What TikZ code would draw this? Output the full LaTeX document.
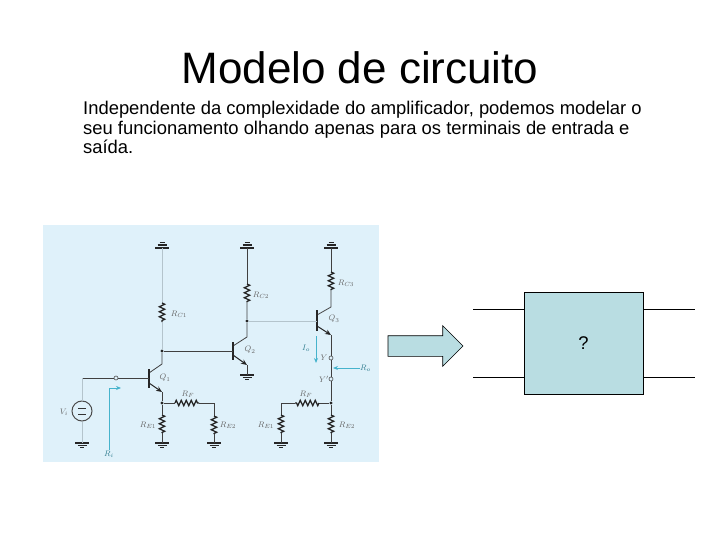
\documentclass[tikz,border=0pt]{standalone}
\usepackage{fontspec}
\setmainfont{Liberation Sans}
\usepackage{amsmath}
\usetikzlibrary{positioning}
\usetikzlibrary{arrows.meta,shapes.arrows,decorations.pathmorphing,calc}
\definecolor{panelblue}{HTML}{DFF1FA}
\definecolor{boxblue}{HTML}{B9DDE2}
\definecolor{probecyan}{HTML}{45B3CC}
\definecolor{palewire}{HTML}{B4C4CC}
\tikzstyle{title} = [font=\fontsize{44}{50}\selectfont, inner sep=0pt]
\tikzstyle{body} = [font=\fontsize{18.4}{19.6}\selectfont, align=left, anchor=north west, inner sep=0pt]
\tikzstyle{wire} = [line width=0.8pt, color=black!75]
\tikzstyle{palewirestyle} = [line width=0.8pt, color=palewire]
\tikzstyle{res} = [line width=1.3pt, black!85, decorate, decoration={zigzag, segment length=5pt, amplitude=2.6pt, pre length=0pt, post length=0pt}]
\tikzstyle{dot} = [circle, fill=black!85, inner sep=0pt, minimum size=3.4pt]
\tikzstyle{port} = [circle, draw=black!70, fill=panelblue, inner sep=0pt, minimum size=4pt, line width=0.6pt]
\tikzstyle{lab} = [font=\fontsize{8}{9}\selectfont, text=black!60, inner sep=0pt]
\tikzstyle{probelab} = [font=\fontsize{8}{9}\selectfont, text=probecyan!70!black, inner sep=0pt]
\tikzstyle{probe} = [line width=0.8pt, color=probecyan, -{Stealth[length=5pt,width=4pt]}]
\tikzstyle{bar} = [line width=1.4pt, black!85]
\tikzstyle{emit} = [line width=1pt, black!85, -{Stealth[length=6pt,width=5pt]}]
\tikzstyle{blackbox} = [rectangle, draw=black, fill=boxblue, line width=0.7pt, minimum width=119pt, minimum height=102pt, inner sep=0pt, font=\fontsize{18.4}{20}\selectfont]
\tikzstyle{bigarrow} = [single arrow, draw=black, fill=boxblue, line width=0.6pt, minimum height=75pt, minimum width=40pt, single arrow head extend=10pt, single arrow head indent=0pt, inner sep=10pt, outer sep=0pt, anchor=tail]
\newcommand{\gndsym}[1]{%
	\draw[line width=1.1pt, black!85] ($(#1)+(-7,0)$)--($(#1)+(7,0)$);
	\draw[line width=1.1pt, black!85] ($(#1)+(-4.5,2.4)$)--($(#1)+(4.5,2.4)$);
	\draw[line width=1.1pt, black!85] ($(#1)+(-2.2,4.8)$)--($(#1)+(2.2,4.8)$);}
\newcommand{\railsym}[1]{%
	\draw[line width=1.1pt, black!85] ($(#1)+(-7,0)$)--($(#1)+(7,0)$);
	\draw[line width=1.4pt, black!85] ($(#1)+(-4.5,-3)$)--($(#1)+(4.5,-3)$);
	\draw[line width=1.1pt, black!85] ($(#1)+(-2.5,-5.5)$)--($(#1)+(2.5,-5.5)$);}
\begin{document}
\begin{tikzpicture}[x=1pt,y=-1pt]
	\useasboundingbox (0,0) rectangle (720,540);
	\fill[white] (0,0) rectangle (720,540);
	\node (heading) [title] at (360,68) {Modelo de circuito};
	\node (intro) [body] at (83,101) {Independente da complexidade do amplificador, podemos modelar o\\seu funcionamento olhando apenas para os terminais de entrada e\\saída.};
	\fill[panelblue] (43,225) rectangle (379,462);
	% rails and grounds
	\foreach \name/\x in {railA/162,railB/247,railC/331}
		\coordinate (\name) at (\x,248);
	\foreach \name/\x in {gndV/82,gndA/162,gndB/214,gndC/281,gndD/331}
		\coordinate (\name) at (\x,443);
	\coordinate (gndQ) at (247,375);
	\foreach \name in {railA,railB,railC}
		\railsym{\name};
	\foreach \name in {gndV,gndA,gndB,gndQ,gndC,gndD}
		\gndsym{\name};
	% first stage
	\node (nodeA) [dot] at (162,351) {};
	\node (nodeB) [dot] at (162,403) {};
	\node (inport) [port] at (116,378) {};
	\coordinate (baseA) at (149,378);
	\coordinate (colA) at (162,364);
	\coordinate (emA) at (162,392);
	\draw[palewirestyle] (railA)--(162,303);
	\draw[res] (162,303)--(162,322);
	\draw[palewirestyle] (162,322)--(nodeA);
	\draw[wire] (nodeA)--(colA)--(149,373);
	\draw[bar] (149,369)--(149,388);
	\draw[wire] (inport)--(baseA);
	\draw[emit] (149,383)--(emA);
	\draw[wire] (emA)--(nodeB);
	\node (source) [circle, draw=black!70, line width=1pt, minimum size=20pt, inner sep=0pt] at (82,411) {};
	\draw[wire] (inport)--(82,378);
	\draw[palewirestyle] (82,378)--(source);
	\draw[palewirestyle] (source)--(gndV);
	\draw[line width=0.8pt, black!80] (78,408)--(86,408) (78,414)--(86,414);
	\draw[wire] (nodeB)--(175,403);
	\draw[res] (175,403)--(199,403);
	\draw[wire] (199,403)--(214,403)--(214,416);
	\draw[res] (214,416)--(214,434);
	\draw[wire] (214,434)--(gndB);
	\draw[res] (162,415)--(162,433);
	\draw[wire] (nodeB)--(162,415) (162,433)--(gndA);
	% second stage
	\node (nodeC) [dot] at (247,321) {};
	\draw[wire] (railB)--(247,284);
	\draw[res] (247,284)--(247,302);
	\draw[wire] (247,302)--(nodeC)--(247,337)--(233,346);
	\draw[bar] (233,342)--(233,360);
	\draw[wire] (nodeA)--(233,351);
	\draw[emit] (233,355)--(247,365);
	\draw[wire] (247,365)--(gndQ);
	% third stage
	\node (outport) [port] at (331,358) {};
	\node (outref) [port] at (331,379) {};
	\node (nodeD) [dot] at (331,403) {};
	\draw[wire] (railC)--(331,272);
	\draw[res] (331,272)--(331,290);
	\draw[wire] (331,290)--(331,307)--(317,315);
	\draw[bar] (317,310)--(317,331);
	\draw[palewirestyle] (nodeC)--(317,321);
	\draw[emit] (317,326)--(331,335);
	\draw[wire] (331,335)--(outport);
	\draw[wire] (outport)--(outref);
	\draw[wire] (outref)--(nodeD);
	\draw[wire] (nodeD)--(319,403);
	\draw[res] (319,403)--(295,403);
	\draw[wire] (295,403)--(281,403)--(281,415);
	\draw[res] (281,415)--(281,433);
	\draw[wire] (281,433)--(gndC);
	\draw[wire] (nodeD)--(331,415);
	\draw[res] (331,415)--(331,433);
	\draw[wire] (331,433)--(gndD);
	% probes
	\coordinate (riEnd) at (121,388);
	\node (Ri) [probelab] at (109,454) {$R_i$};
	\draw[probe] (Ri.north)|-(riEnd);
	\node (Io) [probelab] at (306,348) {$I_o$};
	\coordinate (ioTop) at (316,336);
	\coordinate (ioEnd) at (316,363);
	\draw[probe] (ioTop)--(ioEnd);
	\node (Ro) [probelab, anchor=west] at (360,368) {$R_o$};
	\coordinate (roEnd) at (333,368);
	\draw[probe] (Ro.west)--(roEnd);
	% labels
	\node (labRCa) [lab] at (179,314) {$R_{C1}$};
	\node (labRCb) [lab] at (261,295) {$R_{C2}$};
	\node (labRCc) [lab] at (346,283) {$R_{C3}$};
	\node (labQa) [lab] at (165,378) {$Q_1$};
	\node (labQb) [lab] at (250,350) {$Q_2$};
	\node (labQc) [lab] at (334,319) {$Q_3$};
	\node (labV) [lab] at (64,412) {$V_i$};
	\node (labRFa) [lab] at (188,394) {$R_F$};
	\node (labRFb) [lab] at (306,394) {$R_F$};
	\node (labREa) [lab] at (148,425) {$R_{E1}$};
	\node (labREb) [lab] at (228,425) {$R_{E2}$};
	\node (labREc) [lab] at (266,425) {$R_{E1}$};
	\node (labREd) [lab] at (347,425) {$R_{E2}$};
	\node (labY) [lab] at (324,358) {$Y$};
	\node (labYp) [lab] at (324,379) {$Y'$};
	% black box
	\node (model) [blackbox] at (583.5,343) {?};
	\node (blockarrow) [bigarrow] at (388,346) {};
	\coordinate (inA) at (473,309);
	\coordinate (inB) at (473,377);
	\coordinate (outA) at (695,309);
	\coordinate (outB) at (695,377);
	\draw[line width=0.7pt] (inA)--(model.west |- inA);
	\draw[line width=0.7pt] (inB)--(model.west |- inB);
	\draw[line width=0.7pt] (model.east |- outA)--(outA);
	\draw[line width=0.7pt] (model.east |- outB)--(outB);
\end{tikzpicture}
\end{document}
